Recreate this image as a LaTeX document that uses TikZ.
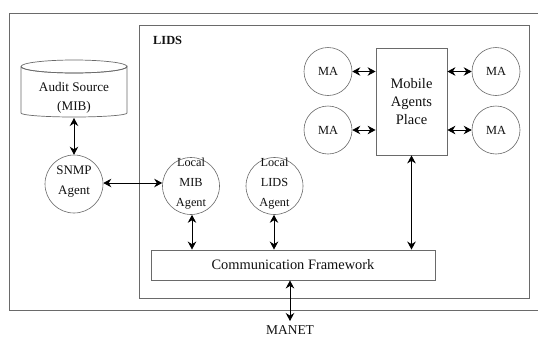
\documentclass[tikz,border=0pt]{standalone}
\usepackage{fontspec}
\setmainfont{Liberation Serif}
\usetikzlibrary{arrows.meta}
\definecolor{boxgray}{HTML}{6A6A6A}
\definecolor{txt}{HTML}{111111}
\tikzset{
  frame/.style={draw=boxgray, line width=0.9pt},
  agentcircle/.style={circle, draw=boxgray, line width=0.6pt, minimum size=#1, inner sep=0pt},
  biarrow/.style={{Stealth[length=8pt,width=8.5pt]}-{Stealth[length=8pt,width=8.5pt]}, line width=0.9pt, black},
  lbl/.style={text=txt, align=center, inner sep=0pt},
}
\begin{document}
\begin{tikzpicture}[x=1pt,y=-1pt]
\clip (0,0) rectangle (538,338);
\fill[white] (0,0) rectangle (538,338);
% outer and LIDS frames
\draw[frame] (9,13) rectangle (560,310);
\draw[frame] (139,25) rectangle (529,298);
\node[lbl, anchor=west, font=\fontsize{12.4}{14}\selectfont\bfseries] (lids) at (153,40) {LIDS};
% audit source cylinder
\draw[draw=boxgray, line width=0.7pt, fill=white]
  (21,66.5) -- (21,113) arc[start angle=180, end angle=360, x radius=53, y radius=-4]
  -- (127,66.5) arc[start angle=0, end angle=180, x radius=53, y radius=6.5];
\draw[draw=boxgray, line width=0.7pt] (74,66.5) ellipse[x radius=53, y radius=6.5];
\node[lbl, font=\fontsize{13.2}{19}\selectfont] (audit) at (74,97.5) {Audit Source\\(MIB)};
\coordinate (auditbot) at (74,118);
% SNMP agent
\node[agentcircle=58pt] (snmp) at (74,184) {};
\node[lbl, font=\fontsize{13}{20}\selectfont] at (74,182) {SNMP\\Agent};
% Local MIB agent
\node[agentcircle=57pt] (mib) at (191,186) {};
\node[lbl, font=\fontsize{12.3}{20}\selectfont] at (191,184) {Local\\MIB\\Agent};
% Local LIDS agent
\node[agentcircle=57pt] (lidsa) at (274.5,186) {};
\node[lbl, font=\fontsize{12.3}{20}\selectfont] at (274.5,184) {Local\\LIDS\\Agent};
% Communication framework
\node[frame, draw, minimum width=284pt, minimum height=30pt, inner sep=0pt, font=\fontsize{14.4}{16}\selectfont, text=txt] (comm) at (293,265) {Communication Framework};
% Mobile agents place
\node[draw=boxgray, line width=0.8pt, minimum width=71pt, minimum height=107pt, inner sep=0pt, align=center, text=txt, font=\fontsize{14.5}{18}\selectfont] (map) at (411.5,101.5) {Mobile\\Agents\\Place};
% MA circles
\node[agentcircle=48pt, text=txt, font=\fontsize{12.4}{14}\selectfont] (ma1) at (328,71.5) {MA};
\node[agentcircle=48pt, text=txt, font=\fontsize{12.4}{14}\selectfont] (ma2) at (328,130) {MA};
\node[agentcircle=48pt, text=txt, font=\fontsize{12.4}{14}\selectfont] (ma3) at (496,71.5) {MA};
\node[agentcircle=48pt, text=txt, font=\fontsize{12.4}{14}\selectfont] (ma4) at (496,130) {MA};
% MANET
\node[lbl, anchor=base, font=\fontsize{13.5}{16}\selectfont] (manet) at (290,334) {MANET};
\coordinate (manettop) at (290,321);
% connectors
\draw[biarrow] (auditbot) -- (snmp.north);
\draw[biarrow] (snmp.east |- 0,183) -- (mib.west |- 0,183);
\draw[biarrow] (mib.south -| 192,0) -- (comm.north -| 192,0);
\draw[biarrow] (lidsa.south -| 274,0) -- (comm.north -| 274,0);
\draw[biarrow] (map.south) -- (comm.north -| map.south);
\draw[biarrow] (comm.south -| 290,0) -- (manettop);
\draw[biarrow] (ma1.east) -- (map.west |- ma1.east);
\draw[biarrow] (ma2.east) -- (map.west |- ma2.east);
\draw[biarrow] (map.east |- ma3.west) -- (ma3.west);
\draw[biarrow] (map.east |- ma4.west) -- (ma4.west);
\end{tikzpicture}
\end{document}
